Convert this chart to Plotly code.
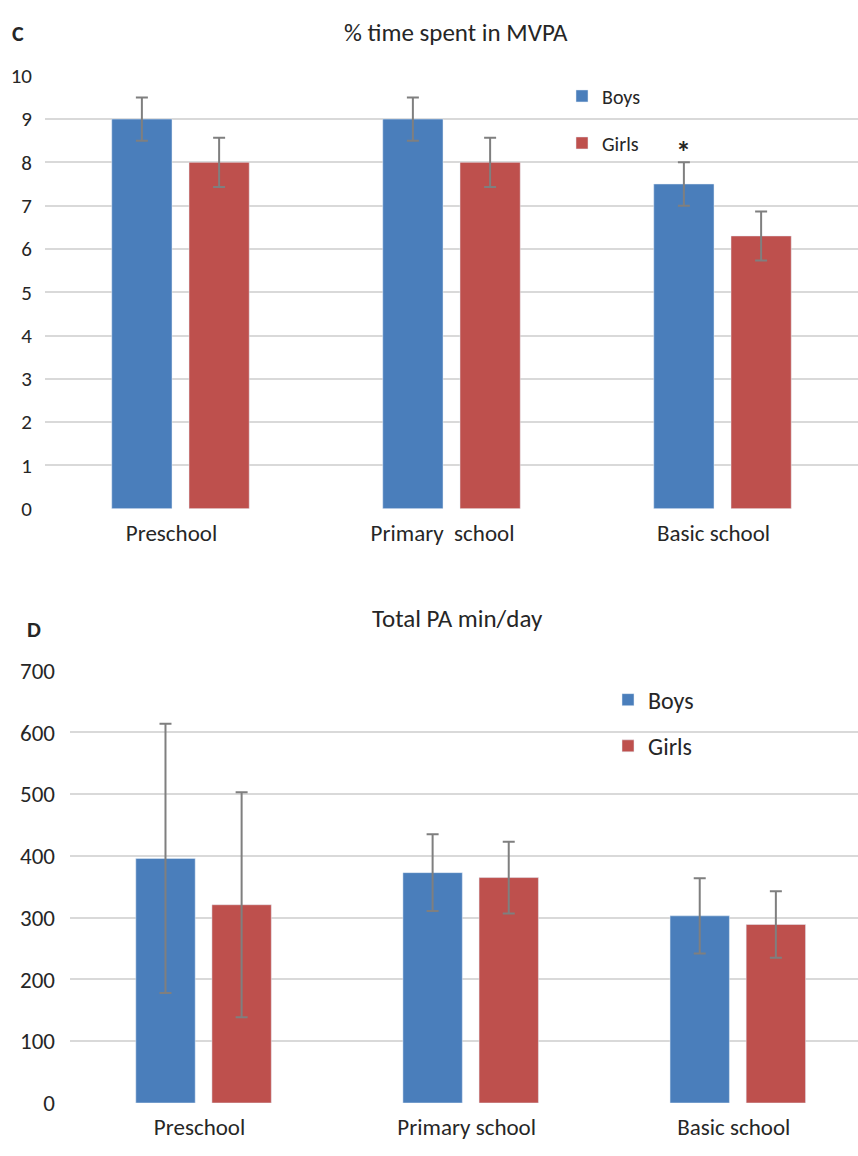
import plotly.graph_objects as go

categories_c = ["Preschool", "Primary  school", "Basic school"]
boys_c = [9.0, 9.0, 7.5]
boys_c_err = [0.5, 0.5, 0.5]
girls_c = [8.0, 8.0, 6.3]
girls_c_err = [0.57, 0.57, 0.565]

categories_d = ["Preschool", "Primary school", "Basic school"]
boys_d = [396, 373, 303]
boys_d_err = [218, 62, 61]
girls_d = [321, 365, 289]
girls_d_err = [182, 58, 54]

BLUE = "#4A7EBB"
RED = "#BE504D"
ERR = "#7F7F7F"
GRID = "#D9D9D9"
FONT = "Carlito, Calibri, Lato, sans-serif"
TXT = "#262626"

W, H = 858, 1156
BARGAP = 0.43
GROUPGAP = 0.22


def py(pix):
    return 1 - pix / H


def px(pix):
    return pix / W


def err(arr, thick=2, width=6):
    return dict(type="data", array=arr, color=ERR, thickness=thick, width=width, visible=True)


fig = go.Figure()
fig.add_trace(go.Bar(x=categories_c, y=boys_c, name="Boys", marker_color=BLUE,
                     error_y=err(boys_c_err), xaxis="x", yaxis="y",
                     legend="legend", legendgroup="b1"))
fig.add_trace(go.Bar(x=categories_c, y=girls_c, name="Girls", marker_color=RED,
                     error_y=err(girls_c_err), xaxis="x", yaxis="y",
                     legend="legend", legendgroup="g1"))
fig.add_trace(go.Bar(x=categories_d, y=boys_d, name="Boys", marker_color=BLUE,
                     error_y=err(boys_d_err), xaxis="x2", yaxis="y2",
                     legend="legend2", legendgroup="b2"))
fig.add_trace(go.Bar(x=categories_d, y=girls_d, name="Girls", marker_color=RED,
                     error_y=err(girls_d_err), xaxis="x2", yaxis="y2",
                     legend="legend2", legendgroup="g2"))

axis_common = dict(showline=False, ticks="", zeroline=False)

# offset of the boys bar centre within its category group (in category units)
boys_offset = -(1 - BARGAP) / 4

fig.update_layout(
    width=W, height=H,
    margin=dict(l=0, r=0, t=0, b=0),
    paper_bgcolor="white", plot_bgcolor="white",
    font=dict(family=FONT, color=TXT),
    barmode="group", bargap=BARGAP, bargroupgap=GROUPGAP,
    xaxis=dict(domain=[px(45), 1], range=[-0.5, 2.5], type="category",
               showgrid=False, tickfont=dict(size=23), ticklabelstandoff=8,
               ticklabelshift=-9, anchor="y", **axis_common),
    yaxis=dict(domain=[py(507), py(63.3)], range=[0, 10], dtick=1,
               showgrid=True, gridcolor=GRID, gridwidth=2,
               tickfont=dict(size=21), ticklabelstandoff=12, anchor="x",
               **axis_common),
    xaxis2=dict(domain=[px(70), 1], range=[-0.5, 2.45], type="category",
                showgrid=False, tickfont=dict(size=23), ticklabelstandoff=8,
                ticklabelshift=-4, anchor="y2", **axis_common),
    yaxis2=dict(domain=[py(1116), py(673)], range=[0, 700], dtick=100,
                showgrid=True, gridcolor=GRID, gridwidth=2,
                tickfont=dict(size=23), ticklabelstandoff=14, anchor="x2",
                **axis_common),
    legend=dict(x=px(562), y=py(64), xanchor="left", yanchor="top",
                font=dict(size=20, color=TXT), tracegroupgap=18,
                bgcolor="rgba(0,0,0,0)"),
    legend2=dict(x=px(608), y=py(680), xanchor="left", yanchor="top",
                 font=dict(size=24, color=TXT), tracegroupgap=12,
                 bgcolor="rgba(0,0,0,0)"),
    annotations=[
        dict(text="% time spent in MVPA", x=px(456), y=py(19), xref="paper", yref="paper",
             showarrow=False, font=dict(size=25, color=TXT), xanchor="center", yanchor="middle"),
        dict(text="<b>C</b>", x=px(10), y=py(20), xref="paper", yref="paper",
             showarrow=False, font=dict(size=22, color=TXT), xanchor="left", yanchor="middle"),
        dict(text="Total PA min/day", x=px(457), y=py(619), xref="paper", yref="paper",
             showarrow=False, font=dict(size=25, color=TXT), xanchor="center", yanchor="middle"),
        dict(text="<b>D</b>", x=px(25), y=py(631), xref="paper", yref="paper",
             showarrow=False, font=dict(size=22, color=TXT), xanchor="left", yanchor="middle"),
        dict(text="<b>*</b>", x=2 + boys_offset, y=boys_c[2] + boys_c_err[2], xref="x", yref="y",
             showarrow=False, font=dict(size=30, color=TXT), xanchor="center", yanchor="bottom",
             yshift=-10),
    ],
)

fig.write_html("out.html", config={"displayModeBar": False},
               post_script="document.body.style.margin='0';document.body.style.overflow='hidden';")
